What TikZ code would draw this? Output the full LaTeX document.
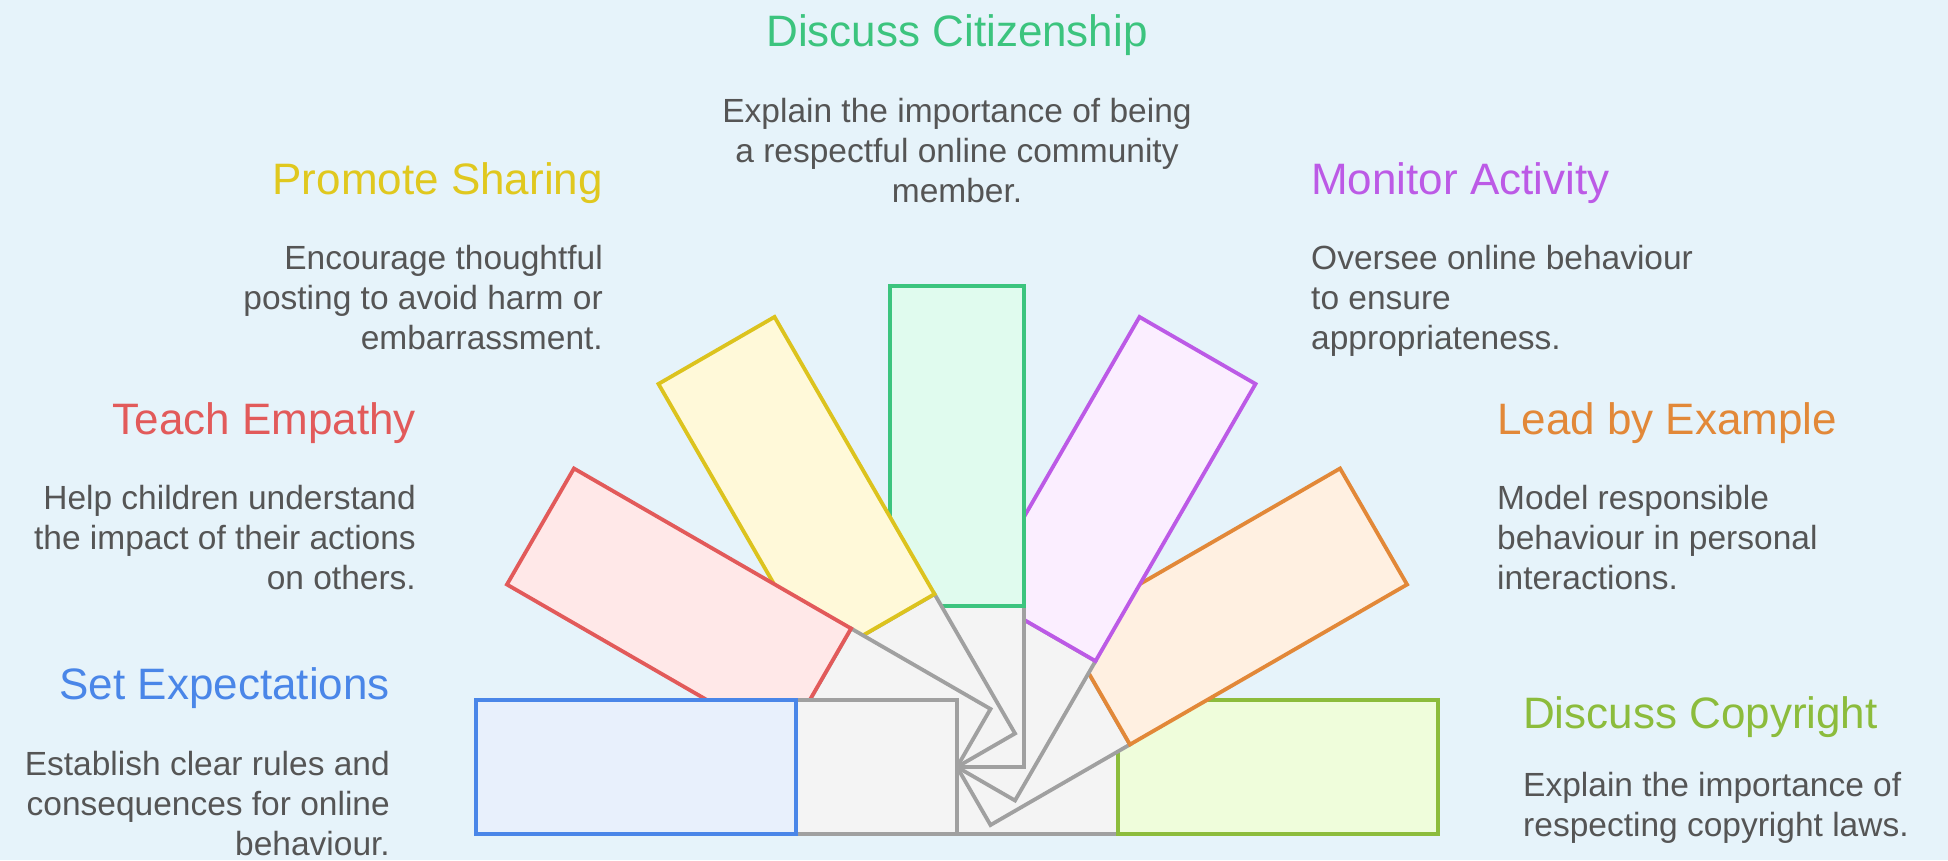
\documentclass[tikz,border=0pt]{standalone}
\usepackage{fontspec}
\setmainfont{Liberation Sans}
\definecolor{bg}{HTML}{E6F3FA}
\definecolor{grayS}{HTML}{A0A0A0}
\definecolor{grayF}{HTML}{F4F4F4}
\definecolor{blueS}{HTML}{4A86E8}
\definecolor{blueF}{HTML}{E8F0FC}
\definecolor{redS}{HTML}{E25A5A}
\definecolor{redF}{HTML}{FFE8E8}
\definecolor{yelS}{HTML}{DCC31E}
\definecolor{yelT}{HTML}{E0C81E}
\definecolor{yelF}{HTML}{FFF9D9}
\definecolor{grnS}{HTML}{3CC47E}
\definecolor{grnF}{HTML}{E0FBEE}
\definecolor{purS}{HTML}{BC5AE6}
\definecolor{purF}{HTML}{FBEEFF}
\definecolor{oraS}{HTML}{E28838}
\definecolor{oraF}{HTML}{FFF0E1}
\definecolor{limS}{HTML}{8CBC3C}
\definecolor{limF}{HTML}{EFFDDB}
\definecolor{descC}{HTML}{555555}
\newcommand\myarm[3]{%
  \begin{scope}[shift={(957,93)}, rotate=#1]
    \filldraw[armline, draw=grayS, fill=grayF] (0,-67) rectangle (161,67);
    \filldraw[armline, draw=#2, fill=#3] (161,-67) rectangle (481,67);
  \end{scope}}
\begin{document}
\begin{tikzpicture}[x=1pt, y=1pt,
  armline/.style={line width=3.8pt, line join=miter},
  ttl/.style={inner sep=0pt, font=\fontsize{44}{52}\selectfont},
  dsc/.style={inner sep=0pt, text=descC, font=\fontsize{33.5}{40}\selectfont}]
\useasboundingbox (0,0) rectangle (1948,860);
\fill[bg] (0,0) rectangle (1948,860);
% arms, from right to left (later ones on top)
\myarm{0}{limS}{limF}
\myarm{30}{oraS}{oraF}
\myarm{60}{purS}{purF}
\myarm{90}{grnS}{grnF}
\myarm{120}{yelS}{yelF}
\myarm{150}{redS}{redF}
\myarm{180}{blueS}{blueF}
% titles
\node[ttl, text=grnS, anchor=base] (t1) at (957,813) {Discuss Citizenship};
\node[ttl, text=yelT, anchor=base east] (t2) at (603,665) {Promote Sharing};
\node[ttl, text=redS, anchor=base east] (t3) at (416,425) {Teach Empathy};
\node[ttl, text=blueS, anchor=base east] (t4) at (390,161) {Set Expectations};
\node[ttl, text=purS, anchor=base west] (t5) at (1311,665) {Monitor Activity};
\node[ttl, text=oraS, anchor=base west] (t6) at (1497,425) {Lead by Example};
\node[ttl, text=limS, anchor=base west] (t7) at (1523,132) {Discuss Copyright};
% descriptions
\node[dsc, align=center, anchor=north] (d1) at (957,761.5) {Explain the importance of being\\a respectful online community\\member.};
\node[dsc, align=right, anchor=north east] (d2) at (603,614.5) {Encourage thoughtful\\posting to avoid harm or\\embarrassment.};
\node[dsc, align=right, anchor=north east] (d3) at (416,374.5) {Help children understand\\the impact of their actions\\on others.};
\node[dsc, align=right, anchor=north east] (d4) at (390,109) {Establish clear rules and\\consequences for online\\behaviour.};
\node[dsc, align=left, anchor=north west] (d5) at (1311,614.5) {Oversee online behaviour\\to ensure\\appropriateness.};
\node[dsc, align=left, anchor=north west] (d6) at (1497,374.5) {Model responsible\\behaviour in personal\\interactions.};
\node[dsc, align=left, anchor=north west] (d7) at (1523,87.5) {Explain the importance of\\respecting copyright laws.};
\end{tikzpicture}
\end{document}
